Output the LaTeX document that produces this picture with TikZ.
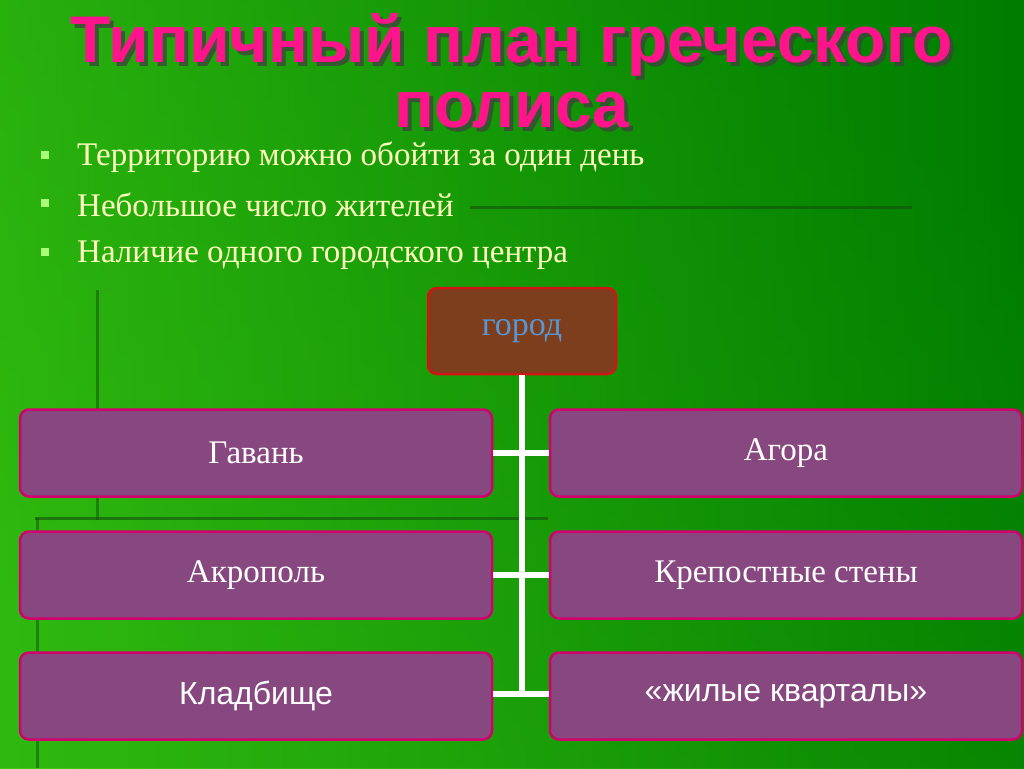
\documentclass[tikz,border=0pt]{standalone}
\usepackage{fontspec}
\setmainfont{Liberation Serif}
\newfontfamily\arialf{Liberation Sans}
\definecolor{bgdark}{RGB}{0,125,0}
\definecolor{bglight}{RGB}{60,200,20}
\definecolor{titlepink}{RGB}{255,20,140}
\definecolor{bullettext}{RGB}{255,255,190}
\definecolor{bulletsq}{RGB}{170,255,120}
\definecolor{citybrown}{RGB}{125,62,30}
\definecolor{cityborder}{RGB}{210,20,20}
\definecolor{citytext}{RGB}{90,150,210}
\definecolor{boxfill}{RGB}{135,72,128}
\definecolor{boxborder}{RGB}{210,0,110}
\definecolor{lineshadow}{RGB}{20,80,10}
\begin{document}
\begin{tikzpicture}[x=1pt,y=-1pt,
  item/.style={draw=boxborder,line width=2.5pt,fill=boxfill,rounded corners=9pt,minimum width=472pt,minimum height=87pt,text=white,font=\fontsize{33}{36}\selectfont,inner sep=0pt},
  city/.style={draw=cityborder,line width=2.5pt,fill=citybrown,rounded corners=9pt,minimum width=188pt,minimum height=86pt,text=citytext,font=\fontsize{34}{36}\selectfont,inner sep=0pt},
  conn/.style={draw=white,line width=6pt},
  bul/.style={anchor=west,text=bullettext,font=\fontsize{33}{36}\selectfont,inner sep=0pt},
  sq/.style={fill=bulletsq,minimum size=8pt,inner sep=0pt},
  ttl/.style={text=titlepink,font=\arialf\bfseries\fontsize{66}{70}\selectfont,inner sep=0pt}]
\useasboundingbox (0,0) rectangle (1024,768);
\shade[top color=bgdark,bottom color=bglight,shading angle=-30] (0,0) rectangle (1024,768);
\fill[bgdark,opacity=0.5] (0,0) rectangle (1024,768);
\shade[left color=bglight,right color=bgdark,opacity=0.6] (0,0) rectangle (1024,768);
% dark guide lines
\draw[lineshadow,line width=3pt,opacity=0.6] (470,207) -- (912,207);
\draw[lineshadow,line width=3pt,opacity=0.5] (97,290) -- (97,520);
\draw[lineshadow,line width=3pt,opacity=0.6] (35,518) -- (548,518);
\draw[lineshadow,line width=3pt,opacity=0.5] (37,518) -- (37,768);
% title
\node[ttl,text=black!75,opacity=0.75] at (516,49) {Типичный план греческого};
\node[ttl] (t1) at (512,45) {Типичный план греческого};
\node[ttl,text=black!75,opacity=0.75] at (516,114) {полиса};
\node[ttl] (t2) at (512,110) {полиса};
% bullets
\node[sq] (s1) at (45,155) {};
\node[sq] (s2) at (45,203) {};
\node[sq] (s3) at (45,252) {};
\node[bul] (b1) at (77,157) {Территорию можно обойти за один день};
\node[bul] (b2) at (77,205) {Небольшое число жителей};
\node[bul] (b3) at (77,255) {Наличие одного городского центра};
% boxes
\node[city] (gorod) at (522,331) {\raisebox{-4pt}{город}};
\node[item] (gavan) at (256,453) {\raisebox{-4pt}{Гавань}};
\node[item] (agora) at (786,453) {\raisebox{-4pt}{Агора}};
\node[item] (akro) at (256,575) {\raisebox{-4pt}{Акрополь}};
\node[item] (steny) at (786,575) {\raisebox{-4pt}{Крепостные стены}};
\node[item,font=\arialf\fontsize{32}{36}\selectfont] (klad) at (256,696) {\raisebox{-3pt}{Кладбище}};
\node[item,font=\arialf\fontsize{32}{36}\selectfont] (zhil) at (786,696) {\raisebox{-3pt}{«жилые кварталы»}};
% connectors
\coordinate (j1) at (522,453);
\coordinate (j2) at (522,575);
\coordinate (j3) at (522,694);
\draw[conn] (gorod.south) -- (j3);
\draw[conn] (gavan.east) -- (agora.west);
\draw[conn] (akro.east) -- (steny.west);
\draw[conn] (klad.east |- j3) -- (zhil.west |- j3);
\end{tikzpicture}
\end{document}
